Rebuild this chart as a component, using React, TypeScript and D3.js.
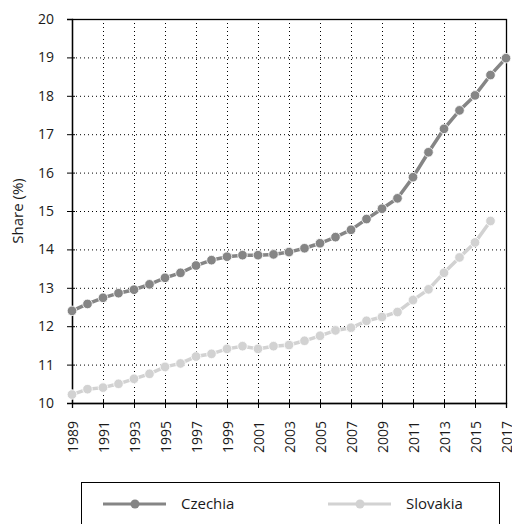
import * as d3 from "d3";
import { useRef, useEffect } from "react";

const WIDTH = 512;
const HEIGHT = 524;
const MARGIN = { top: 19, right: 6, bottom: 121, left: 72 };

const years = d3.range(1989, 2018);
const czechia = [
  12.4, 12.58, 12.74, 12.86, 12.95, 13.09, 13.26, 13.39, 13.58, 13.72,
  13.81, 13.85, 13.85, 13.87, 13.93, 14.03, 14.16, 14.32, 14.51, 14.79,
  15.06, 15.33, 15.88, 16.53, 17.14, 17.62, 18.01, 18.54, 18.98,
];
const slovakia = [
  10.22, 10.36, 10.4, 10.5, 10.63, 10.76, 10.94, 11.03, 11.21, 11.28,
  11.41, 11.48, 11.41, 11.48, 11.51, 11.62, 11.75, 11.89, 11.96, 12.14,
  12.24, 12.37, 12.68, 12.96, 13.39, 13.79, 14.18, 14.74, null,
];
const seriesNames = ["Czechia", "Slovakia"];
const colors = ["#858585", "#d2d2d2"];
const yTicks = d3.range(10, 21);
const xTicks = d3.range(1989, 2018, 2);

const FONT = "'Open Sans', sans-serif";

export default function App() {
  const svgRef = useRef(null);

  useEffect(() => {
    const svg = d3.select(svgRef.current);
    svg.selectAll("*").remove();

    const innerWidth = WIDTH - MARGIN.left - MARGIN.right;
    const innerHeight = HEIGHT - MARGIN.top - MARGIN.bottom;

    const x = d3.scaleLinear().domain([1989, 2017]).range([0, innerWidth]);
    const y = d3.scaleLinear().domain([10, 20]).range([innerHeight, 0]);

    const g = svg
      .append("g")
      .attr("transform", `translate(${MARGIN.left},${MARGIN.top})`);

    // dotted grid
    g.append("g")
      .selectAll("line")
      .data(yTicks.slice(1, -1))
      .join("line")
      .attr("x1", 0)
      .attr("x2", innerWidth)
      .attr("y1", (d) => y(d) + 0.5)
      .attr("y2", (d) => y(d) + 0.5)
      .attr("stroke", "#000")
      .attr("stroke-dasharray", "1,3");
    g.append("g")
      .selectAll("line")
      .data(xTicks.slice(1, -1))
      .join("line")
      .attr("x1", (d) => x(d) + 0.5)
      .attr("x2", (d) => x(d) + 0.5)
      .attr("y1", 0)
      .attr("y2", innerHeight)
      .attr("stroke", "#000")
      .attr("stroke-dasharray", "1,3");

    // frame
    g.append("rect")
      .attr("x", 0.5)
      .attr("y", 0.5)
      .attr("width", innerWidth)
      .attr("height", innerHeight)
      .attr("fill", "none")
      .attr("stroke", "#000")
      .attr("stroke-width", 1.3);

    // axes (ticks cross the axis line)
    const yAxis = g
      .append("g")
      .call(d3.axisLeft(y).tickValues(yTicks).tickSize(5).tickPadding(13));
    yAxis.selectAll(".tick line").attr("x1", 3);
    const xAxis = g
      .append("g")
      .attr("transform", `translate(0,${innerHeight})`)
      .call(
        d3
          .axisBottom(x)
          .tickValues(xTicks)
          .tickFormat(d3.format("d"))
          .tickSize(5)
      );
    xAxis.selectAll(".tick line").attr("y1", -3);
    [yAxis, xAxis].forEach((a) => {
      a.select(".domain").attr("stroke-width", 1.3);
      a.selectAll("text")
        .style("font-family", FONT)
        .style("font-size", "14px")
        .attr("fill", "#1a1a1a");
    });
    xAxis
      .selectAll("text")
      .attr("transform", "rotate(-90)")
      .attr("text-anchor", "end")
      .attr("x", -18)
      .attr("y", 0)
      .attr("dy", "0.36em");

    // y label
    svg
      .append("text")
      .attr("transform", `translate(23,${MARGIN.top + innerHeight / 2}) rotate(-90)`)
      .attr("text-anchor", "middle")
      .style("font-family", FONT)
      .style("font-size", "15px")
      .attr("fill", "#1a1a1a")
      .text("Share (%)");

    // series
    [czechia, slovakia].forEach((vals, i) => {
      const pts = years
        .map((yr, j) => ({ yr, v: vals[j] }))
        .filter((p) => p.v != null);
      const line = d3
        .line<{ yr: number; v: number }>()
        .x((d) => x(d.yr))
        .y((d) => y(d.v));
      g.append("path")
        .datum(pts)
        .attr("d", line)
        .attr("fill", "none")
        .attr("stroke", colors[i])
        .attr("stroke-width", 3.5);
      g.append("g")
        .selectAll("circle")
        .data(pts)
        .join("circle")
        .attr("cx", (d) => x(d.yr))
        .attr("cy", (d) => y(d.v))
        .attr("r", 4.8)
        .attr("fill", colors[i])
        .attr("stroke", "#fff")
        .attr("stroke-width", 0.8);
    });

    // legend
    const lg = svg.append("g");
    lg.append("rect")
      .attr("x", 81.5)
      .attr("y", 482.5)
      .attr("width", 418)
      .attr("height", 60)
      .attr("fill", "#fff")
      .attr("stroke", "#000")
      .attr("stroke-width", 1);
    seriesNames.forEach((name, i) => {
      const lx = 103 + i * 225;
      const ly = 504;
      lg.append("line")
        .attr("x1", lx)
        .attr("x2", lx + 63)
        .attr("y1", ly)
        .attr("y2", ly)
        .attr("stroke", colors[i])
        .attr("stroke-width", 3);
      lg.append("circle")
        .attr("cx", lx + 32)
        .attr("cy", ly)
        .attr("r", 4.5)
        .attr("fill", colors[i]);
      lg.append("text")
        .attr("x", lx + 78)
        .attr("y", ly)
        .attr("dy", "0.35em")
        .style("font-family", FONT)
        .style("font-size", "15px")
        .attr("fill", "#1a1a1a")
        .text(name);
    });
  }, []);

  return (
    <svg
      ref={svgRef}
      width={WIDTH}
      height={HEIGHT}
      style={{ position: "absolute", left: 0, top: 0, background: "#fff" }}
    />
  );
}
